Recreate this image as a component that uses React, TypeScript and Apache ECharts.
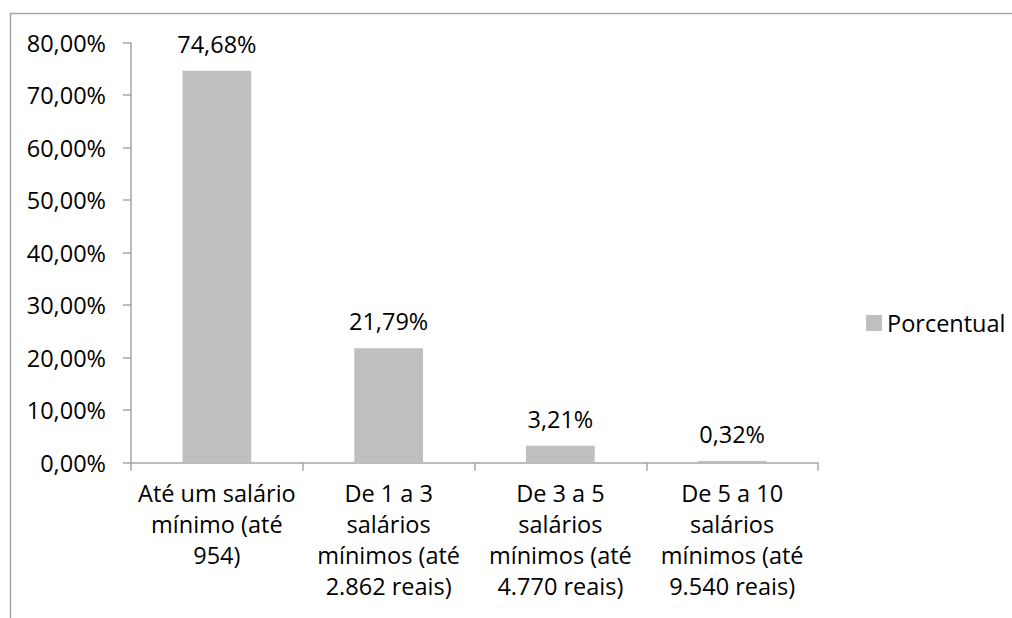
import React, { useEffect, useRef } from "react";
import * as echarts from "echarts";

const categories = [
  "Até um salário\nmínimo (até\n954)",
  "De 1 a 3\nsalários\nmínimos (até\n2.862 reais)",
  "De 3 a 5\nsalários\nmínimos (até\n4.770 reais)",
  "De 5 a 10\nsalários\nmínimos (até\n9.540 reais)",
];
const seriesName = "Porcentual";
const values = [74.68, 21.79, 3.21, 0.32];
const yMin = 0;
const yMax = 80;
const yInterval = 10;

const fmt = (v: number) => v.toFixed(2).replace(".", ",") + "%";

export default function App() {
  const ref = useRef<HTMLDivElement>(null);
  useEffect(() => {
    if (!ref.current) return;
    const chart = echarts.init(ref.current, undefined, { renderer: "svg" });
    const font = "'Open Sans', sans-serif";
    const fs = 23.5;
    const axisColor = "#a6a6a6";
    chart.setOption({
      animation: false,
      backgroundColor: "#ffffff",
      textStyle: { fontFamily: font },
      grid: { left: 131, right: 194, top: 42.7, bottom: 155.3, containLabel: false },
      legend: {
        data: [seriesName],
        left: 861,
        top: 306,
        icon: "rect",
        itemWidth: 16,
        itemHeight: 16,
        textStyle: { fontFamily: font, fontSize: fs, color: "#000" },
      },
      graphic: [
        {
          type: "rect",
          shape: { x: 10.5, y: 13.5, width: 1200, height: 800 },
          style: { fill: "none", stroke: axisColor, lineWidth: 1.5 },
          silent: true,
        },
      ],
      xAxis: {
        type: "category",
        data: categories,
        axisLine: { show: true, lineStyle: { color: axisColor, width: 1.5 } },
        axisTick: { show: true, length: 8, lineStyle: { color: axisColor, width: 1.5 } },
        axisLabel: {
          interval: 0,
          margin: 15,
          fontFamily: font,
          fontSize: fs,
          lineHeight: 31,
          color: "#000",
          align: "center",
        },
        splitLine: { show: false },
      },
      yAxis: {
        type: "value",
        min: yMin,
        max: yMax,
        interval: yInterval,
        axisLine: { show: true, lineStyle: { color: axisColor, width: 1.5 } },
        axisTick: { show: true, length: 8, lineStyle: { color: axisColor, width: 1.5 } },
        axisLabel: {
          margin: 25,
          fontFamily: font,
          fontSize: fs,
          color: "#000",
          formatter: (v: number) => fmt(v),
        },
        splitLine: { show: false },
      },
      series: [
        {
          name: seriesName,
          type: "bar",
          data: values,
          barWidth: "40%",
          itemStyle: { color: "#bfbfbf" },
          label: {
            show: true,
            position: "top",
            distance: 15,
            fontFamily: font,
            fontSize: fs,
            color: "#000",
            formatter: (p: any) => fmt(p.value),
          },
        },
      ],
    });
    return () => chart.dispose();
  }, []);
  return <div ref={ref} style={{ width: 1012, height: 618, position: "absolute", left: 0, top: 0 }} />;
}
